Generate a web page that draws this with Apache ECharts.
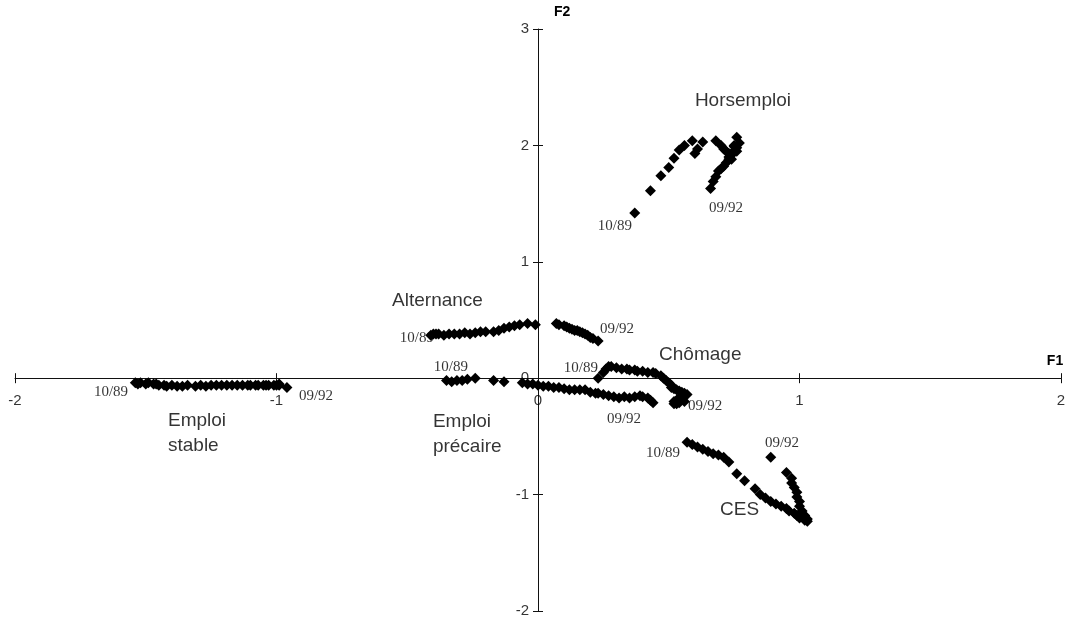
<!DOCTYPE html>
<html>
<head>
<meta charset="utf-8">
<title>Trajectoires F1 / F2</title>
<script src="https://cdn.jsdelivr.net/npm/echarts@6/dist/echarts.min.js"></script>
<style>
  html, body { margin: 0; padding: 0; background: #fff; }
  #chart { width: 1072px; height: 622px; }
</style>
</head>
<body>
<div id="chart"></div>
<script>
// Monthly positions (10/89 .. 09/92) on the first two factorial axes, [F1, F2]
const horsEmploi = [
  [0.37,1.42],[0.43,1.61],[0.47,1.74],[0.50,1.81],[0.52,1.89],[0.54,1.96],
  [0.56,2.00],[0.59,2.04],[0.60,1.93],[0.61,1.97],[0.63,2.03],[0.68,2.04],
  [0.70,2.00],[0.71,1.97],[0.72,1.95],[0.73,1.93],[0.74,1.92],[0.75,2.00],
  [0.76,2.07],[0.77,2.02],[0.76,1.98],[0.75,1.95],[0.74,1.92],[0.73,1.90],
  [0.74,1.88],[0.76,1.95],[0.75,1.99],[0.74,1.93],[0.73,1.88],[0.72,1.85],
  [0.71,1.82],[0.70,1.80],[0.69,1.78],[0.68,1.73],[0.67,1.69],[0.66,1.63]
];
const alternance = [
  [-0.41,0.37],[-0.40,0.38],[-0.39,0.38],[-0.38,0.38],[-0.36,0.37],[-0.34,0.38],
  [-0.32,0.38],[-0.30,0.38],[-0.28,0.39],[-0.26,0.38],[-0.24,0.39],[-0.22,0.40],
  [-0.20,0.40],[-0.17,0.40],[-0.15,0.41],[-0.13,0.43],[-0.11,0.44],[-0.09,0.45],
  [-0.07,0.46],[-0.04,0.47],[-0.01,0.46],[0.07,0.47],[0.08,0.46],[0.10,0.45],
  [0.11,0.44],[0.12,0.43],[0.13,0.42],[0.14,0.41],[0.15,0.41],[0.16,0.40],
  [0.17,0.39],[0.18,0.38],[0.19,0.37],[0.20,0.35],[0.21,0.34],[0.23,0.32]
];
const emploiPrecaire = [
  [-0.35,-0.02],[-0.33,-0.03],[-0.31,-0.02],[-0.29,-0.02],[-0.27,-0.01],[-0.24,0.00],
  [-0.17,-0.02],[-0.13,-0.03],[-0.06,-0.04],[-0.04,-0.05],[-0.02,-0.05],[0.00,-0.06],
  [0.02,-0.07],[0.04,-0.07],[0.06,-0.08],[0.08,-0.08],[0.10,-0.09],[0.12,-0.10],
  [0.14,-0.10],[0.16,-0.10],[0.18,-0.10],[0.20,-0.12],[0.22,-0.13],[0.23,-0.13],
  [0.25,-0.14],[0.27,-0.15],[0.29,-0.16],[0.31,-0.17],[0.33,-0.16],[0.35,-0.17],
  [0.37,-0.16],[0.39,-0.15],[0.40,-0.16],[0.42,-0.17],[0.43,-0.19],[0.44,-0.21]
];
const chomage = [
  [0.23,0.00],[0.25,0.05],[0.26,0.08],[0.27,0.10],[0.28,0.10],[0.30,0.09],
  [0.32,0.08],[0.34,0.08],[0.35,0.07],[0.37,0.07],[0.38,0.06],[0.40,0.06],
  [0.42,0.05],[0.44,0.05],[0.45,0.04],[0.47,0.02],[0.48,0.00],[0.49,-0.02],
  [0.50,-0.04],[0.51,-0.06],[0.51,-0.08],[0.52,-0.09],[0.53,-0.10],[0.54,-0.11],
  [0.55,-0.12],[0.56,-0.13],[0.57,-0.14],[0.56,-0.15],[0.55,-0.16],[0.54,-0.17],
  [0.53,-0.19],[0.52,-0.20],[0.52,-0.22],[0.53,-0.22],[0.54,-0.21],[0.56,-0.20]
];
const ces = [
  [0.57,-0.55],[0.59,-0.57],[0.61,-0.59],[0.63,-0.61],[0.65,-0.63],[0.67,-0.65],
  [0.69,-0.66],[0.71,-0.68],[0.73,-0.72],[0.76,-0.82],[0.79,-0.88],[0.83,-0.95],
  [0.85,-1.00],[0.87,-1.03],[0.89,-1.06],[0.91,-1.08],[0.93,-1.10],[0.95,-1.12],
  [0.96,-1.14],[0.98,-1.16],[0.99,-1.18],[1.00,-1.20],[1.02,-1.22],[1.03,-1.23],
  [1.03,-1.21],[1.02,-1.18],[1.01,-1.14],[1.00,-1.10],[1.00,-1.06],[0.99,-1.02],
  [0.99,-0.98],[0.98,-0.94],[0.97,-0.90],[0.97,-0.86],[0.95,-0.81],[0.89,-0.68]
];
const emploiStable = [
  [-1.54,-0.04],[-1.53,-0.05],[-1.52,-0.04],[-1.50,-0.05],[-1.49,-0.04],[-1.47,-0.05],
  [-1.46,-0.05],[-1.45,-0.06],[-1.43,-0.06],[-1.42,-0.07],[-1.40,-0.06],[-1.38,-0.07],
  [-1.36,-0.07],[-1.34,-0.06],[-1.31,-0.07],[-1.29,-0.06],[-1.27,-0.07],[-1.25,-0.06],
  [-1.23,-0.06],[-1.21,-0.06],[-1.19,-0.06],[-1.17,-0.06],[-1.15,-0.06],[-1.13,-0.06],
  [-1.11,-0.06],[-1.10,-0.06],[-1.08,-0.06],[-1.07,-0.06],[-1.05,-0.06],[-1.04,-0.06],
  [-1.03,-0.06],[-1.01,-0.06],[-1.00,-0.06],[-0.99,-0.05],[-0.99,-0.06],[-0.96,-0.08]
];

// Axis ticks
const f1Ticks = [-2, -1, 0, 1, 2];
const f2Ticks = [-2, -1, 0, 1, 2, 3];

// Group names, with the anchor (left edge, middle) of each name in axis units
const groupNames = ['Horsemploi', 'Alternance', 'Chômage', 'CES', 'Emploi\nstable', 'Emploi\nprécaire'];
const groupNameAt = [[0.600,2.38],[-0.558,0.661],[0.463,0.198],[0.696,-1.134],[-1.415,-0.477],[-0.402,-0.481]];

// First and last month of every trajectory, with the centre of each date in axis units
const dateText = ['10/89','09/92','10/89','09/92','10/89','09/92','10/89','09/92','10/89','09/92','10/89','09/92'];
const dateAt = [
  [0.294,1.306],[0.719,1.46],
  [-0.463,0.344],[0.302,0.42],
  [-0.333,0.094],[0.329,-0.352],
  [0.164,0.086],[0.639,-0.241],
  [0.478,-0.644],[0.933,-0.558],
  [-1.633,-0.12],[-0.849,-0.155]
];

const trajectories = [
  ['Horsemploi', horsEmploi],
  ['Alternance', alternance],
  ['Emploi précaire', emploiPrecaire],
  ['Chômage', chomage],
  ['CES', ces],
  ['Emploi stable', emploiStable]
];

const AXIS_COLOR = '#111';
const SANS = '"Liberation Sans", Arial, sans-serif';
const SERIF = '"Liberation Serif", "Times New Roman", serif';

function valueAxis(min, max, extra) {
  return Object.assign({
    type: 'value', min: min, max: max, interval: 1,
    splitLine: { show: false },
    axisLabel: { show: false }
  }, extra);
}

// Text-only scatter layer: each item shows its name at its own coordinates
function textLayer(name, items, label) {
  return {
    name: name, type: 'scatter', symbolSize: 0, silent: true, z: 4,
    xAxisIndex: 0, yAxisIndex: 0,
    data: items,
    label: Object.assign({ show: true, position: 'inside', formatter: '{b}', color: '#000' }, label)
  };
}

const chart = echarts.init(document.getElementById('chart'), null, { renderer: 'canvas' });

const series = trajectories.map(function (t) {
  return {
    name: t[0], type: 'scatter', xAxisIndex: 0, yAxisIndex: 0,
    symbol: 'diamond', symbolSize: 11,
    itemStyle: { color: '#000', opacity: 1 },
    data: t[1], silent: true, z: 3
  };
});

// Tick labels of both axes, set next to the crossing axis lines
series.push(textLayer('F1 ticks',
  f1Ticks.map(function (v) { return { name: String(v), value: [v, 0] }; }),
  { align: 'center', verticalAlign: 'middle', offset: [0, 23], fontFamily: SANS, fontSize: 15 }));
series.push(textLayer('F2 ticks',
  f2Ticks.map(function (v) { return { name: String(v), value: [0, v] }; }),
  { align: 'right', verticalAlign: 'middle', offset: [-9, 0], fontFamily: SANS, fontSize: 15 }));

series.push(textLayer('groupes',
  groupNames.map(function (n, i) { return { name: n, value: groupNameAt[i] }; }),
  { align: 'left', verticalAlign: 'middle', fontFamily: SANS, fontSize: 19, lineHeight: 25 }));

series.push(textLayer('dates',
  dateText.map(function (d, i) { return { name: d, value: dateAt[i] }; }),
  { align: 'center', verticalAlign: 'middle', fontFamily: SERIF, fontSize: 15 }));

const tickLine = { color: AXIS_COLOR, width: 1 };

chart.setOption({
  animation: false,
  backgroundColor: '#fff',
  grid: { left: 15, right: 11, top: 29, bottom: 11, containLabel: false, outerBoundsMode: 'none' },
  xAxis: [
    valueAxis(f1Ticks[0], f1Ticks[f1Ticks.length - 1], {
      position: 'bottom',
      name: 'F1', nameLocation: 'end', nameGap: -6,
      nameTextStyle: { fontFamily: SANS, fontWeight: 'bold', fontSize: 14, color: '#000',
        align: 'center', verticalAlign: 'bottom', padding: [0, 0, 10, 0] },
      axisLine: { onZero: true, lineStyle: tickLine },
      axisTick: { show: true, length: 5, lineStyle: tickLine }
    }),
    valueAxis(f1Ticks[0], f1Ticks[f1Ticks.length - 1], {
      position: 'bottom',
      axisLine: { show: false, onZero: true },
      axisTick: { show: true, inside: true, length: 5, lineStyle: tickLine }
    })
  ],
  yAxis: [
    valueAxis(f2Ticks[0], f2Ticks[f2Ticks.length - 1], {
      position: 'left',
      name: 'F2', nameLocation: 'end', nameGap: 10,
      nameTextStyle: { fontFamily: SANS, fontWeight: 'bold', fontSize: 14, color: '#000',
        align: 'left', verticalAlign: 'bottom', padding: [0, 0, 0, 16] },
      axisLine: { onZero: true, lineStyle: tickLine },
      axisTick: { show: true, length: 5, lineStyle: tickLine }
    }),
    valueAxis(f2Ticks[0], f2Ticks[f2Ticks.length - 1], {
      position: 'left',
      axisLine: { show: false, onZero: true },
      axisTick: { show: true, inside: true, length: 5, lineStyle: tickLine }
    })
  ],
  series: series
});
</script>
</body>
</html>
